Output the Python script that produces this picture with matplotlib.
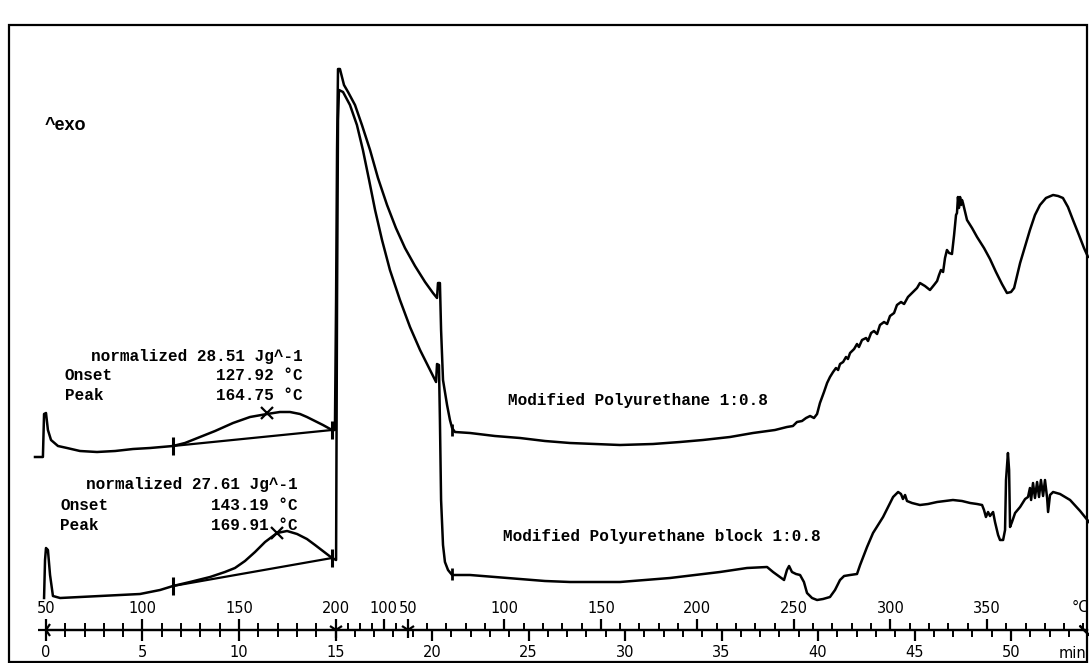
import matplotlib
matplotlib.use("Agg")
import matplotlib.pyplot as plt
from matplotlib.patches import Rectangle

# DSC scan
# x = time (min), y = heat flow (arbitrary units, exo up)

# Modified Polyurethane 1:0.8
pu_heat1_t = [-0.57, -0.16, -0.10, 0.00, 0.10, 0.26, 0.62, 1.09, 1.76, 2.64, 3.58, 4.51, 5.39, 6.58,
              7.20, 7.98, 8.76, 9.69, 10.57, 11.45, 12.12, 12.64, 13.16, 13.52, 13.94, 14.35, 14.82, 14.97]
pu_heat1_hf = [20.6, 20.6, 24.9, 25.0, 23.3, 22.3, 21.7, 21.5, 21.2, 21.1, 21.2, 21.4, 21.5, 21.7,
               22.0, 22.6, 23.2, 24.0, 24.6, 24.9, 25.1, 25.1, 24.9, 24.6, 24.2, 23.8, 23.3, 23.3]
pu_cool_t = [15.03, 15.08, 15.13, 15.23, 15.44, 15.65, 16.01, 16.37, 16.79, 17.20, 17.67, 18.13,
             18.60, 19.12, 19.64, 20.05, 20.26, 20.31, 20.41, 20.47, 20.57, 20.78, 20.93, 21.04]
pu_cool_hf = [36.3, 51.3, 59.4, 59.4, 57.8, 57.1, 55.8, 53.8, 51.3, 48.5, 45.8, 43.5,
              41.5, 39.7, 38.1, 37.0, 36.5, 38.0, 38.0, 33.3, 28.3, 25.8, 24.3, 23.5]
pu_heat2_t = [21.19, 21.97, 23.26, 24.56, 25.85, 27.15, 28.45, 29.74, 31.45, 32.85, 34.04, 35.44,
              36.63, 37.77, 38.39, 38.70, 38.91, 39.17, 39.38, 39.59, 39.79, 39.95, 40.10, 40.31,
              40.47, 40.62, 40.78, 40.93, 41.04, 41.14, 41.30, 41.45, 41.55, 41.66, 41.87, 42.02,
              42.12, 42.28, 42.49, 42.59, 42.75, 42.90, 43.06, 43.21, 43.42, 43.58, 43.73, 43.94,
              44.09, 44.30, 44.46, 44.66, 44.92, 45.13, 45.28, 45.54, 45.80, 46.01, 46.17, 46.27,
              46.37, 46.48, 46.58, 46.68, 46.79, 46.94, 47.05, 47.15, 47.20, 47.25, 47.30, 47.36,
              47.41, 47.46, 47.51, 47.62, 47.72, 47.98, 48.24, 48.60, 48.91, 49.22, 49.53, 49.79,
              50.00, 50.16, 50.31, 50.47, 50.73, 50.98, 51.24, 51.50, 51.81, 52.18, 52.44, 52.69,
              52.95, 53.21, 53.52, 53.78, 53.99]
pu_heat2_hf = [23.1, 23.0, 22.7, 22.5, 22.2, 22.0, 21.9, 21.8, 21.9, 22.1, 22.3, 22.6,
               23.0, 23.3, 23.6, 23.7, 24.1, 24.2, 24.5, 24.7, 24.5, 24.9, 26.0, 27.1,
               28.0, 28.6, 29.1, 29.5, 29.3, 29.9, 30.1, 30.6, 30.4, 31.0, 31.4, 31.9,
               31.6, 32.3, 32.5, 32.2, 33.0, 33.2, 32.9, 33.8, 34.1, 33.9, 34.7, 35.0,
               35.8, 36.1, 35.9, 36.6, 37.1, 37.5, 38.0, 37.7, 37.3, 37.8, 38.2, 38.8,
               39.3, 39.1, 40.5, 41.3, 41.0, 40.9, 42.8, 44.8, 45.0, 46.6, 45.5, 46.6,
               45.8, 46.3, 46.0, 45.1, 44.3, 43.5, 42.6, 41.5, 40.4, 39.1, 37.9, 37.0,
               37.1, 37.5, 38.7, 40.0, 41.7, 43.3, 44.8, 45.8, 46.5, 46.8, 46.7, 46.5,
               45.6, 44.3, 42.8, 41.5, 40.6]

# Modified Polyurethane block 1:0.8
blk_heat1_t = [-0.10, -0.05, 0.00, 0.10, 0.21, 0.36, 0.73, 1.76, 2.80, 3.83, 4.87, 5.91, 6.58, 7.46,
               8.50, 9.27, 9.79, 10.31, 10.83, 11.35, 11.97, 12.49, 13.01, 13.52, 13.94, 14.35, 14.82]
blk_heat1_hf = [6.5, 10.3, 11.5, 11.3, 8.8, 6.7, 6.5, 6.6, 6.7, 6.8, 6.9, 7.3, 7.7, 8.1,
                8.6, 9.1, 9.5, 10.2, 11.1, 12.1, 13.0, 13.2, 12.9, 12.4, 11.8, 11.2, 10.5]
blk_cool_t = [15.03, 15.08, 15.13, 15.18, 15.39, 15.75, 16.11, 16.42, 16.74, 17.05, 17.41, 17.82,
              18.34, 18.86, 19.38, 19.90, 20.21, 20.26, 20.36, 20.41, 20.47, 20.57, 20.67, 20.83, 21.04]
blk_cool_hf = [10.3, 36.3, 54.3, 57.3, 57.1, 55.8, 53.8, 51.3, 48.3, 45.3, 42.3, 39.3,
               36.3, 33.6, 31.3, 29.3, 28.1, 29.9, 29.8, 24.3, 16.3, 11.8, 10.1, 9.3, 8.8]
blk_heat2_t = [21.97, 23.26, 24.56, 25.85, 27.15, 28.45, 29.74, 31.04, 32.33, 33.63, 34.92, 36.32,
               37.36, 37.67, 38.03, 38.24, 38.39, 38.50, 38.65, 38.86, 39.07, 39.27, 39.43, 39.69,
               39.95, 40.26, 40.62, 40.88, 41.14, 41.35, 41.66, 42.02, 42.18, 42.38, 42.54, 42.85,
               43.11, 43.37, 43.63, 43.89, 44.15, 44.30, 44.40, 44.51, 44.61, 44.87, 45.28, 45.70,
               46.17, 46.58, 46.99, 47.46, 47.88, 48.24, 48.50, 48.60, 48.70, 48.81, 48.91, 49.07,
               49.17, 49.33, 49.43, 49.59, 49.69, 49.74, 49.84, 49.90, 49.95, 50.05, 50.21, 50.47,
               50.73, 50.88, 50.98, 51.04, 51.14, 51.24, 51.35, 51.45, 51.55, 51.66, 51.76, 51.87,
               51.92, 52.02, 52.18, 52.54, 53.06, 53.58, 54.04]
blk_heat2_hf = [8.8, 8.6, 8.4, 8.2, 8.1, 8.1, 8.1, 8.3, 8.5, 8.8, 9.1, 9.5,
                9.6, 9.1, 8.6, 8.3, 9.3, 9.7, 9.1, 8.9, 8.8, 8.1, 7.0, 6.5,
                6.3, 6.4, 6.6, 7.3, 8.3, 8.7, 8.8, 8.9, 9.8, 10.8, 11.6, 13.0,
                13.8, 14.6, 15.6, 16.6, 17.1, 16.9, 16.4, 16.8, 16.2, 16.0, 15.8, 15.9,
                16.1, 16.2, 16.3, 16.2, 16.0, 15.9, 15.8, 15.3, 14.6, 15.1, 14.7, 15.1,
                14.1, 12.8, 12.3, 12.3, 13.3, 18.3, 21.0, 19.3, 13.6, 14.1, 15.0, 15.6,
                16.4, 16.6, 17.5, 16.3, 18.0, 16.5, 18.1, 16.6, 18.3, 16.7, 18.3, 16.5,
                15.1, 16.8, 17.1, 16.9, 16.3, 15.2, 14.1]

# melting peak evaluation (integration limits and peak point)
pu_limits_t = [6.58, 14.82]
pu_limits_hf = [21.7, 23.3]
pu_peak = (11.45, 25.0)
blk_limits_t = [6.58, 14.82]
blk_limits_hf = [7.7, 10.5]
blk_peak = (11.97, 13.0)

pu_results = ["normalized 28.51 Jg^-1", "127.92 °C", "164.75 °C"]
blk_results = ["normalized 27.61 Jg^-1", "143.19 °C", "169.91 °C"]

# temperature program: 50->200 at 10 K/min, 200->50 at 40 K/min, 50->400 at 10 K/min
heat1_T = [50, 100, 150, 200]
cool_T = [100, 50]
heat2_T = [100, 150, 200, 250, 300, 350]
time_ticks = [0, 5, 10, 15, 20, 25, 30, 35, 40, 45, 50]

t_end = 53.95
XLIM = (-2.383, 54.04)
YLIM = (0, 66.3)
AXIS_HF = 3.3   # height of the time axis line


def t_heat1(T):
    return (T - 50) / 10.0


def t_cool(T):
    return 15 + (200 - T) / 40.0


def t_heat2(T):
    return 18.75 + (T - 50) / 10.0


pu_t = pu_heat1_t + pu_cool_t + pu_heat2_t
pu_hf = pu_heat1_hf + pu_cool_hf + pu_heat2_hf
blk_t = blk_heat1_t + blk_cool_t + blk_heat2_t
blk_hf = blk_heat1_hf + blk_cool_hf + blk_heat2_hf

fig = plt.figure(figsize=(10.89, 6.63), dpi=100)
ax = fig.add_axes([0, 0, 1, 1])
ax.set_xlim(*XLIM)
ax.set_ylim(*YLIM)
ax.axis('off')

lw = 1.8
ax.plot(pu_t, pu_hf, color='black', lw=lw, solid_joinstyle='round')
ax.plot(blk_t, blk_hf, color='black', lw=lw, solid_joinstyle='round')

# peak evaluation markings
for lt, lh, pk in [(pu_limits_t, pu_limits_hf, pu_peak), (blk_limits_t, blk_limits_hf, blk_peak)]:
    ax.plot(lt, lh, color='black', lw=1.6)
    ax.plot(lt, lh, ls='none', marker='|', ms=13, mew=2.2, color='black')
    ax.plot([pk[0]], [pk[1]], ls='none', marker='x', ms=8, mew=1.6, color='black')
ax.plot([21.04, 21.04], [23.3, 8.9], ls='none', marker='|', ms=8, mew=2, color='black')

mono = dict(family='Liberation Mono', fontsize=11.5, fontweight='bold', color='black')
for res, x_left, x_right, y0 in [(pu_results, 0.98, 13.32, 30.7), (blk_results, 0.73, 13.06, 17.8)]:
    ax.text(x_right, y0, res[0], ha='right', va='center', **mono)
    ax.text(x_left, y0 - 2.0, "Onset", ha='left', va='center', **mono)
    ax.text(x_right, y0 - 2.0, res[1], ha='right', va='center', **mono)
    ax.text(x_left, y0 - 4.0, "Peak", ha='left', va='center', **mono)
    ax.text(x_right, y0 - 4.0, res[2], ha='right', va='center', **mono)

ax.text(23.94, 26.3, "Modified Polyurethane 1:0.8", ha='left', va='center', **mono)
ax.text(23.68, 12.6, "Modified Polyurethane block 1:0.8", ha='left', va='center', **mono)
ax.text(-0.05, 53.8, "^exo", ha='left', va='center', family='Liberation Sans',
        fontsize=13, fontweight='bold')

# time axis (bottom ticks) and temperature axis (top ticks) on one line
y0 = AXIS_HF / (YLIM[1] - YLIM[0])
tax = fig.add_axes([0, y0, 1, 1e-5])
tax.set_xlim(*XLIM)
tax.patch.set_visible(False)
tax.set_yticks([])
for s in ['left', 'right', 'top']:
    tax.spines[s].set_visible(False)
tax.spines['bottom'].set_bounds(0, t_end)
tax.spines['bottom'].set_linewidth(1.6)
tax.set_xticks(time_ticks)
tax.set_xticks(list(range(0, 54)), minor=True)
tax.set_xticklabels([str(v) for v in time_ticks], fontsize=10.5)
tax.tick_params(axis='x', which='major', direction='out', length=8, width=1.6, pad=3)
tax.tick_params(axis='x', which='minor', direction='out', length=5, width=1.4)

kax = tax.twiny()
kax.set_xlim(*XLIM)
kax.patch.set_visible(False)
for s in ['left', 'right', 'bottom']:
    kax.spines[s].set_visible(False)
kax.spines['top'].set_bounds(0, t_end)
kax.spines['top'].set_linewidth(1.6)
major_pos = [t_heat1(T) for T in heat1_T] + [t_cool(T) for T in cool_T] + [t_heat2(T) for T in heat2_T]
major_lab = [str(T) for T in heat1_T + cool_T + heat2_T]
minor_pos = ([t_heat1(T) for T in range(50, 201, 10)] + [t_cool(T) for T in range(175, 50, -25)]
             + [t_heat2(T) for T in range(60, 401, 10)])
kax.set_xticks(major_pos)
kax.set_xticklabels(major_lab, fontsize=10.5)
kax.set_xticks(minor_pos, minor=True)
kax.tick_params(axis='x', which='major', direction='out', length=8, width=1.6, pad=2)
kax.tick_params(axis='x', which='minor', direction='out', length=5, width=1.4)

# segment markers along the axis
tax.plot([15, 18.75], [0.5, 0.5], ls='none', marker='1', ms=11, mew=1.6, color='black', clip_on=False)
tax.plot([0], [0.5], ls='none', marker='3', ms=11, mew=1.6, color='black', clip_on=False)
tax.plot([t_end - 0.15], [0.5], ls='none', marker=(2, 2, 45), ms=10, mew=1.6, color='black', clip_on=False)

xt = tax.get_xaxis_transform()
tax.annotate("°C", xy=(53.6, 0), xycoords=xt, xytext=(0, 16), textcoords='offset points',
             ha='center', va='center', fontsize=10.5)
tax.annotate("min", xy=(53.2, 0), xycoords=xt, xytext=(0, -17), textcoords='offset points',
             ha='center', va='center', fontsize=10.5)

# page frame of the instrument printout
fig.patches.append(Rectangle((9 / 1089, 1 / 663), 1078 / 1089, 637 / 663, transform=fig.transFigure,
                             fill=False, edgecolor='black', linewidth=1.6))

fig.savefig("out.png", dpi=100)
